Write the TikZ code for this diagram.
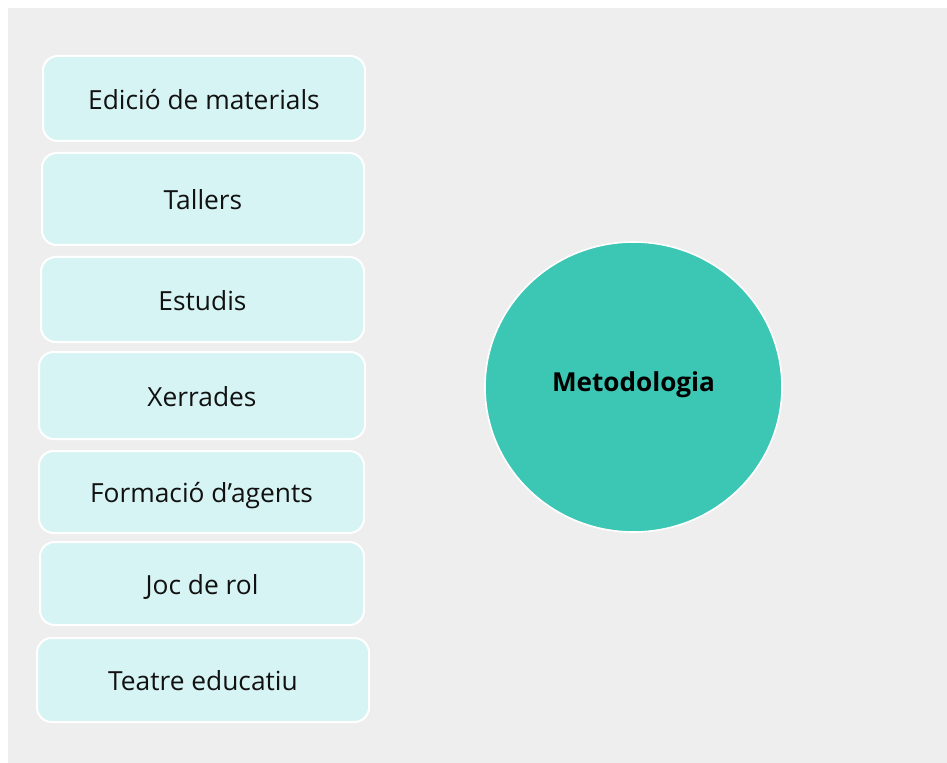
\documentclass[tikz,border=0pt]{standalone}
\usepackage{fontspec}
\setmainfont{Open Sans}
\usetikzlibrary{shapes.geometric}
\newdimen\upx \upx=0.75pt
\definecolor{bggray}{HTML}{EEEEEE}
\definecolor{boxfill}{HTML}{D7F4F4}
\definecolor{circfill}{HTML}{3CC7B5}
\definecolor{txt}{HTML}{111111}
\tikzset{
  item/.style={draw=white, line width=1.5pt, fill=boxfill, rounded corners=11pt,
    inner sep=0pt, text height=15.8pt, text depth=0pt, text=txt,
    font=\fontsize{19.75pt}{23pt}\selectfont},
  hub/.style={ellipse, draw=white, line width=1.2pt, fill=circfill, inner sep=0pt},
  hublabel/.style={anchor=base, inner sep=0pt, text=black,
    font=\fontsize{19.6pt}{23pt}\selectfont\bfseries}
}
\begin{document}
\begin{tikzpicture}[x=0.75pt, y=-0.75pt]
\useasboundingbox (0,0) rectangle (947,763);
\fill[white] (0,0) rectangle (947,763);
\fill[bggray] (8,8) rectangle (947,763);

\node[item, minimum width=322\upx, minimum height=85\upx] (b1) at (204,98.5) {Edició de materials};
\node[item, minimum width=322\upx, minimum height=92\upx] (b2) at (203,199) {Tallers};
\node[item, minimum width=323\upx, minimum height=85\upx] (b3) at (202.5,299.5) {Estudis};
\node[item, minimum width=326\upx, minimum height=87\upx] (b4) at (202,395.5) {Xerrades};
\node[item, minimum width=325\upx, minimum height=82\upx] (b5) at (201.5,492) {Formació d’agents};
\node[item, minimum width=324\upx, minimum height=83\upx] (b6) at (202,583.5) {Joc de rol};
\node[item, minimum width=332\upx, minimum height=84\upx] (b7) at (203,680) {Teatre educatiu};

\node[hub, minimum width=297\upx, minimum height=290\upx] (hub) at (633.5,387) {};
\node[hublabel] (hubtext) at (633.5,391) {Metodologia};
\end{tikzpicture}
\end{document}
